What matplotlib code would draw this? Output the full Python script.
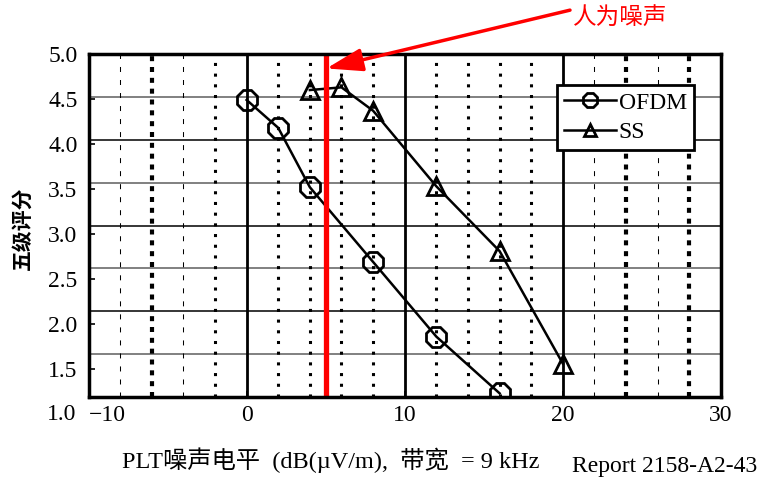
import matplotlib
matplotlib.use("Agg")
import matplotlib.pyplot as plt

# five-grade scores
ofdm_x = [0, 2, 4, 8, 12, 16]
ofdm_y = [4.49, 4.18, 3.52, 2.69, 1.86, 1.23]
ss_x = [4, 6, 8, 12, 16, 20]
ss_y = [4.60, 4.63, 4.37, 3.53, 2.81, 1.56]

x_ticks = [-10, 0, 10, 20, 30]
y_ticks = [1.5, 2.0, 2.5, 3.0, 3.5, 4.0, 4.5, 5.0]
man_made_noise = 5

# vertical grid lines, grouped by how they are drawn
solid_x = [0, 10, 20]
dotted_x = [-2, 2, 4, 6, 8, 12, 14, 16, 18]
heavy_x = [-6, 24, 28]
thin_x = [-8, -4, 22, 26]

SERIF = ["Liberation Serif", "Noto Sans CJK SC"]
CJK = ["Noto Sans CJK SC", "DejaVu Sans"]

fig = plt.figure(figsize=(7.61, 4.83), dpi=100)
ax = fig.add_axes([0.1163, 0.178, 0.8311, 0.7101])
ax.set_xlim(-10, 30)
ax.set_ylim(1.189, 5.0)

# horizontal grid: eight equal bands, alternating grey / black
for k in range(1, 8):
    color = "#808080" if k % 2 else "black"
    lw = 1.4 if k % 2 else 1.1
    ax.plot([0, 1], [k / 8, k / 8], transform=ax.transAxes, color=color, lw=lw, zorder=1)

for x in solid_x:
    ax.axvline(x, color="black", lw=2.0, zorder=1)
for x in dotted_x:
    ax.axvline(x, color="black", lw=2.2, linestyle=(0, (1, 2.5)), zorder=1)
for x in heavy_x:
    ax.axvline(x, color="black", lw=3.0, linestyle=(0, (1.2, 1.4)), zorder=1)
for x in thin_x:
    ax.axvline(x, color="black", lw=0.75, linestyle=(0, (4.8, 7.7)), zorder=1)

ax.plot(ofdm_x, ofdm_y, color="black", lw=1.8, marker="8", markersize=15,
        markerfacecolor="none", markeredgewidth=2.0, label="OFDM", zorder=3)
ax.plot(ss_x, ss_y, color="black", lw=1.8, marker="^", markersize=12.5,
        markerfacecolor="none", markeredgewidth=2.0, label="SS", zorder=3)

ax.axvline(man_made_noise, color="#ff0000", lw=3.8, zorder=4)

ax.set_xticks(x_ticks)
ax.set_yticks(y_ticks)
ax.set_yticklabels([f"{v:.1f}" for v in y_ticks])
ax.set_xticklabels(["\u221210" if v < 0 else str(v) for v in x_ticks])
ax.tick_params(direction="in", length=4, width=1.2, pad=8, labelsize=17)
ax.tick_params(axis="x", pad=6)
for lab in ax.get_xticklabels() + ax.get_yticklabels():
    lab.set_family(SERIF)
ax.get_xticklabels()[0].set_ha("left")
for spine in ax.spines.values():
    spine.set_linewidth(2.5)
    spine.set_zorder(5)

# the 1.0 label sits below the frame, on the scale of the other labels
ax.annotate("1.0", xy=(0, 1.0), xycoords=("axes fraction", "data"),
            xytext=(-9, 0), textcoords="offset points", ha="right", va="center",
            fontsize=17, family=SERIF, annotation_clip=False)

leg = ax.legend(loc="upper right", bbox_to_anchor=(0.957, 0.910), borderaxespad=0,
                fancybox=False, edgecolor="black", framealpha=1, borderpad=0.3,
                labelspacing=0.35, handlelength=2.2, handletextpad=0.1, markerscale=0.7,
                prop={"family": SERIF, "size": 17})
leg.get_frame().set_linewidth(2)
leg.set_zorder(6)

ax.annotate("", xy=(5.05, 4.84), xytext=(0.749, 0.979), textcoords="figure fraction",
            arrowprops=dict(arrowstyle="-|>,head_length=1.1,head_width=0.35",
                            color="#ff0000", lw=2.5, mutation_scale=20, shrinkA=0, shrinkB=0),
            annotation_clip=False, zorder=7)
fig.text(0.753, 0.965, "人为噪声", color="#ff0000", fontsize=17, family=CJK,
         ha="left", va="center")

fig.text(0.029, 0.528, "五级评分", rotation=90, fontsize=15, fontweight="bold",
         family=CJK, ha="center", va="center")
fig.text(0.435, 0.048, "PLT噪声电平  (dB(µV/m),  带宽  = 9 kHz", fontsize=17.5,
         family=SERIF, ha="center", va="center")
fig.text(0.995, 0.035, "Report 2158-A2-43", fontsize=17, family=SERIF,
         ha="right", va="center")

fig.savefig("out.png", dpi=100)
